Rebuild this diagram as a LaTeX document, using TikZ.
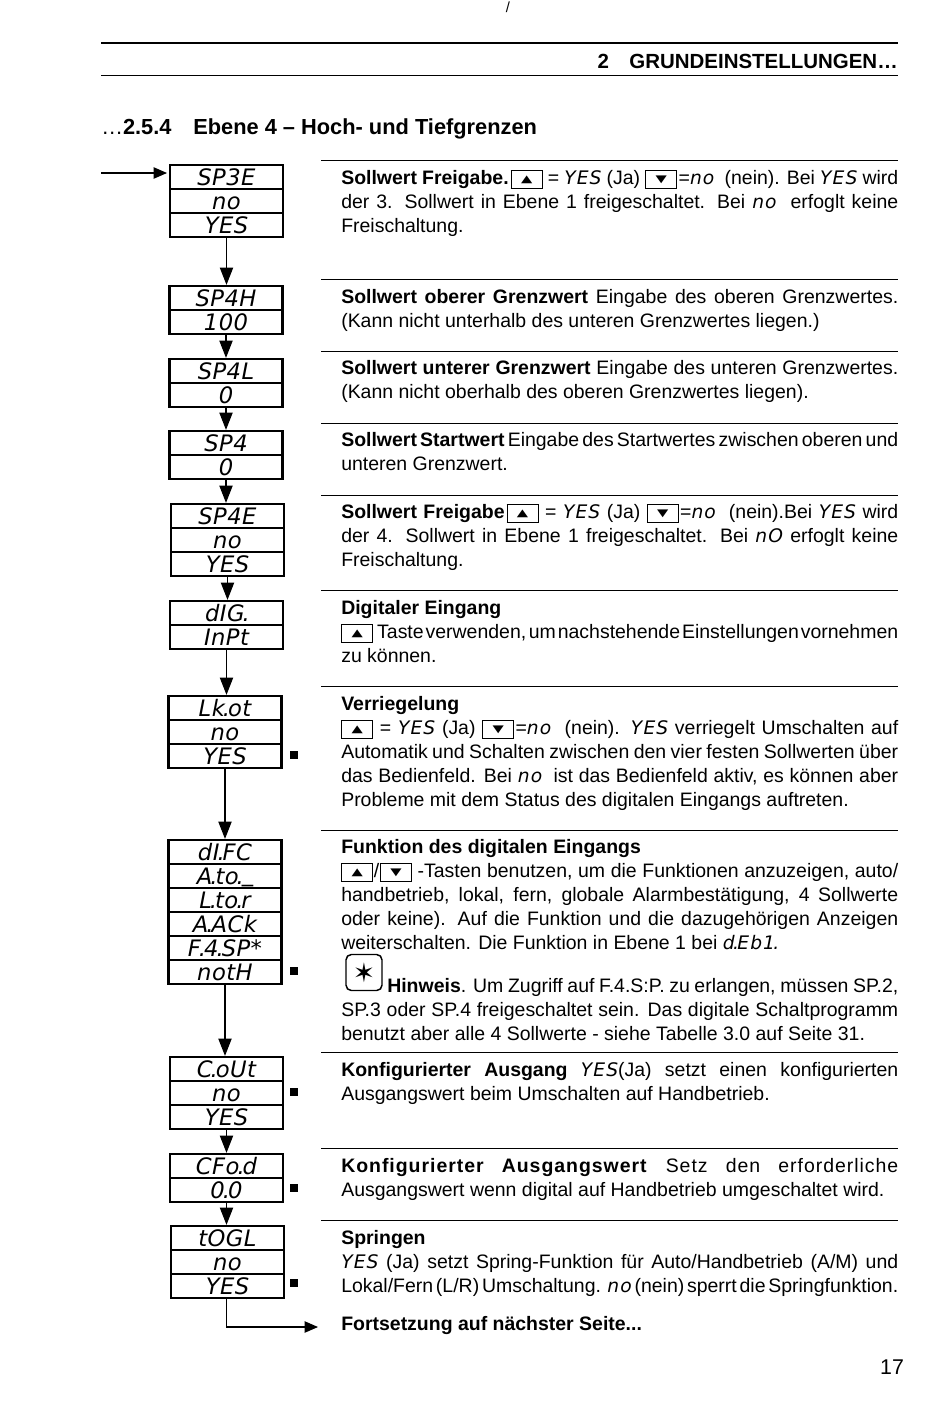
\documentclass[tikz,border=0pt]{standalone}
\usepackage{fontspec}
\usepackage{graphicx}
\usetikzlibrary{arrows.meta}
\setmainfont{Liberation Sans}
\newfontfamily\segfont[LetterSpace=6]{DejaVu Sans Oblique}
\newfontfamily\rowfont[LetterSpace=2]{DejaVu Sans Oblique}
\newfontfamily\symfont{DejaVu Sans}
\newcommand{\sg}[1]{{\fontsize{14}{14}\segfont #1}}
\newcommand{\dt}{\hbox to .14em{\hss.\hss}}
\newcommand{\keybox}[1]{\raisebox{-.4pt}{\fboxsep0pt\fboxrule.75pt\fbox{\parbox[c][12.5pt][c]{22.5pt}{\centering\fontsize{11}{11}\symfont\scalebox{1}[.7]{#1}}}}}
\newcommand{\kup}{\keybox{▲}}
\newcommand{\kdn}{\keybox{▼}}
\newlength{\tw}\setlength{\tw}{417.75pt}
\newcommand{\jl}[1]{\hbox to \tw{\spaceskip=.278em plus 1fil minus .24em\relax #1}}
\newcommand{\rl}[1]{\hbox{#1}}
\tikzset{
 segrow/.style={draw,line width=1.7pt,inner sep=0pt,minimum width=84.75pt,minimum height=18pt,text height=13pt,text depth=0pt,font=\fontsize{17}{17}\rowfont},
 para/.style={anchor=base west,inner sep=0pt,font=\fontsize{14.6}{18}\selectfont},
 flowarrow/.style={line width=.8pt,-{Triangle[width=10pt,length=13pt]}},
 smallarrow/.style={line width=.8pt,-{Triangle[width=8.5pt,length=10pt]}},
 rulethin/.style={line width=.7pt},
 mark square/.style={fill=black,inner sep=0pt,minimum size=5.5pt},
}
\begin{document}
\begin{tikzpicture}[x=.75pt,y=-.75pt]
\useasboundingbox (0,0) rectangle (950,1414);
\fill[white] (0,0) rectangle (950,1414);
% header
\node[anchor=base,inner sep=0pt,font=\fontsize{11}{11}\selectfont] (slash) at (508,12) {/};
\draw[line width=1pt] (101,43) -- (898,43);
\draw[line width=.7pt] (101,75) -- (898,75);
\node[anchor=base east,inner sep=0pt,font=\fontsize{15.35}{18}\bfseries] (hd) at (898,68) {2\hspace{1em}GRUNDEINSTELLUNGEN…};
\node[anchor=base west,inner sep=0pt,font=\fontsize{16.35}{18}\selectfont] (sec) at (101,134) {…\textbf{2.5.4\hspace{1em}Ebene 4 – Hoch- und Tiefgrenzen}};
% rules
\foreach \yy in {160,279,351,423,495,590,686,830,1052,1148,1220}
  \draw[rulethin] (321,\yy) -- (898,\yy);
% stacks
\node[segrow] (a1) at (226.5,177) {SP3E};
\node[segrow] (a2) at (226.5,201) {no};
\node[segrow] (a3) at (226.5,225) {YES};
\node[segrow] (b1) at (226,298) {SP4H};
\node[segrow] (b2) at (226,322) {100};
\node[segrow] (c1) at (226,371) {SP4L};
\node[segrow] (c2) at (226,395) {0};
\node[segrow] (d1) at (226,443) {SP4};
\node[segrow] (d2) at (226,467) {0};
\node[segrow] (e1) at (227.5,516) {SP4E};
\node[segrow] (e2) at (227.5,540) {no};
\node[segrow] (e3) at (227.5,564) {YES};
\node[segrow] (f1) at (226.5,613) {dIG\dt};
\node[segrow] (f2) at (226.5,637) {InPt};
\node[segrow] (g1) at (225,708) {Lk\dt ot};
\node[segrow] (g2) at (225,732) {no};
\node[segrow] (g3) at (225,756) {YES};
\node[segrow] (h1) at (225,852) {dI\dt FC};
\node[segrow] (h2) at (225,876) {A\dt to\dt\raisebox{2.2pt}{\_}};
\node[segrow] (h3) at (225,900) {L\dt to\dt r};
\node[segrow] (h4) at (225,924) {A\dt ACk};
\node[segrow] (h5) at (225,948) {F\dt 4\dt SP*};
\node[segrow] (h6) at (225,972) {notH};
\node[segrow] (i1) at (226.5,1069) {C\dt oUt};
\node[segrow] (i2) at (226.5,1093) {no};
\node[segrow] (i3) at (226.5,1117) {YES};
\node[segrow] (j1) at (226.5,1166) {CFo\dt d};
\node[segrow] (j2) at (226.5,1190) {0\dt 0};
\node[segrow] (k1) at (227.5,1238) {tOGL};
\node[segrow] (k2) at (227.5,1262) {no};
\node[segrow] (k3) at (227.5,1286) {YES};
% connectors
\coordinate (start) at (101,173);
\coordinate (aim) at (167,173);
\coordinate (finish) at (318,1327);
\draw[smallarrow] (start) -- (aim);
\draw[flowarrow] (a3.south) -- (a3.south |- b1.north);
\draw[flowarrow] (b2.south) -- (b2.south |- c1.north);
\draw[flowarrow] (c2.south) -- (c2.south |- d1.north);
\draw[flowarrow] (d2.south) -- (d2.south |- e1.north);
\draw[flowarrow] (e3.south) -- (e3.south |- f1.north);
\draw[flowarrow] (f2.south) -- (f2.south |- g1.north);
\draw[flowarrow] (g3.south) -- (g3.south |- h1.north);
\draw[flowarrow] (h6.south) -- (h6.south |- i1.north);
\draw[flowarrow] (i3.south) -- (i3.south |- j1.north);
\draw[flowarrow] (j2.south) -- (j2.south |- k1.north);
\draw[smallarrow] ([xshift=-.9pt]k3.south) |- (finish);
% square marks
\node[mark square] (m1) at (294,755) {};
\node[mark square] (m2) at (294,971) {};
\node[mark square] (m3) at (294,1092) {};
\node[mark square] (m4) at (294,1188) {};
\node[mark square] (m5) at (294,1283) {};
% texts
\node[para] (t1) at (341,184) {\vtop{
 \jl{\textbf{Sollwert Freigabe.}\kern1.5pt\kup{} = \sg{YES} (Ja) \kdn{}\kern1pt=\sg{no}\ \ (nein). Bei \sg{YES} wird}
 \jl{der 3. Sollwert in Ebene 1 freigeschaltet. Bei \sg{no}\ \ erfoglt keine}
 \rl{Freischaltung.}}};
\node[para] (t2) at (341,303) {\vtop{
 \jl{\textbf{Sollwert oberer Grenzwert} Eingabe des oberen Grenzwertes.}
 \rl{(Kann nicht unterhalb des unteren Grenzwertes liegen.)}}};
\node[para] (t3) at (341,374) {\vtop{
 \jl{\textbf{Sollwert unterer Grenzwert} Eingabe des unteren Grenzwertes.}
 \rl{(Kann nicht oberhalb des oberen Grenzwertes liegen).}}};
\node[para] (t4) at (341,446) {\vtop{
 \jl{\textbf{Sollwert Startwert} Eingabe des Startwertes zwischen oberen und}
 \rl{unteren Grenzwert.}}};
\node[para] (t5) at (341,518) {\vtop{
 \jl{\textbf{Sollwert Freigabe}\kern1.5pt\kup{} = \sg{YES} (Ja) \kdn{}\kern1pt=\sg{no}\ \ (nein).Bei \sg{YES} wird}
 \jl{der 4. Sollwert in Ebene 1 freigeschaltet. Bei \sg{nO} erfoglt keine}
 \rl{Freischaltung.}}};
\node[para] (t6) at (341,614) {\vtop{
 \rl{\textbf{Digitaler Eingang}}
 \jl{\kup\kern1.5pt{} Taste verwenden, um nachstehende Einstellungen vornehmen}
 \rl{zu können.}}};
\node[para] (t7) at (341,710) {\vtop{
 \rl{\textbf{Verriegelung}}
 \jl{\kup{} = \sg{YES} (Ja) \kdn{}\kern1pt=\sg{no}\ \ (nein). \sg{YES} verriegelt Umschalten auf}
 \jl{Automatik und Schalten zwischen den vier festen Sollwerten über}
 \jl{das Bedienfeld. Bei \sg{no}\ \ ist das Bedienfeld aktiv, es können aber}
 \rl{Probleme mit dem Status des digitalen Eingangs auftreten.}}};
\node[para] (t8) at (341,853) {\vtop{
 \rl{\textbf{Funktion des digitalen Eingangs}}
 \jl{\kup\kern.5pt/\kern.5pt\kdn{} -Tasten benutzen, um die Funktionen anzuzeigen, auto/}
 \jl{handbetrieb, lokal, fern, globale Alarmbestätigung, 4 Sollwerte}
 \jl{oder keine). Auf die Funktion und die dazugehörigen Anzeigen}
 \rl{weiterschalten. Die Funktion in Ebene 1 bei \sg{d\dt Eb1\dt}}}};
\node[draw,line width=1.1pt,rounded corners=4pt,inner sep=0pt,minimum width=27pt,minimum height=27pt,font=\fontsize{20}{20}\symfont] (star) at (364,972.5) {✶};
\node[para] (t9) at (387,992) {\hbox to 383.25pt{\spaceskip=.278em plus 1fil minus .2em\relax\textbf{Hinweis}. Um Zugriff auf F.4.S:P. zu erlangen, müssen SP.2,}};
\node[para] (t10) at (341,1016) {\vtop{
 \jl{SP.3 oder SP.4 freigeschaltet sein. Das digitale Schaltprogramm}
 \rl{benutzt aber alle 4 Sollwerte - siehe Tabelle 3.0 auf Seite 31.}}};
\node[para] (t11) at (341,1076) {\vtop{
 \jl{\textbf{Konfigurierter Ausgang} \sg{YES}(Ja) setzt einen konfigurierten}
 \rl{Ausgangswert beim Umschalten auf Handbetrieb.}}};
\node[para] (t12) at (341,1172) {\vtop{
 \jl{\textbf{\addfontfeature{LetterSpace=5}Konfigurierter Ausgangswert} {\addfontfeature{LetterSpace=5}Setz den erforderliche}}
 \rl{Ausgangswert wenn digital auf Handbetrieb umgeschaltet wird.}}};
\node[para] (t13) at (341,1244) {\vtop{
 \rl{\textbf{Springen}}
 \jl{\sg{YES} (Ja) setzt Spring-Funktion für Auto/Handbetrieb (A/M) und}
 \jl{Lokal/Fern (L/R) Umschaltung. \sg{no} (nein) sperrt die Springfunktion.}}};
\node[para] (t14) at (341,1330) {\textbf{Fortsetzung auf nächster Seite...}};
\node[anchor=base,inner sep=0pt,font=\fontsize{16}{18}\selectfont] (pg) at (892,1374) {17};
\end{tikzpicture}
\end{document}
